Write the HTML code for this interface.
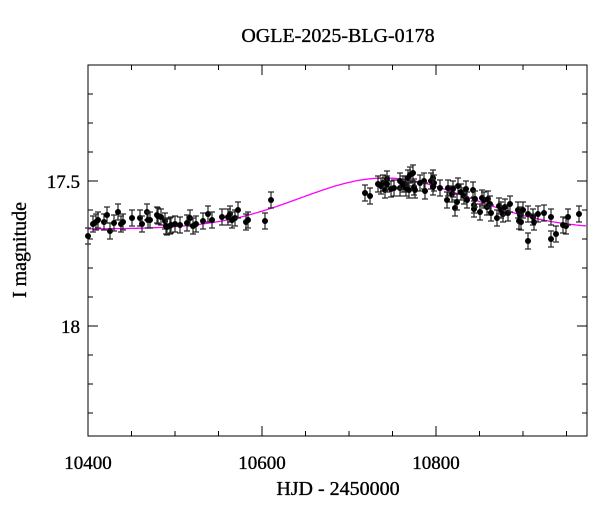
<!DOCTYPE html>
<html><head><style>body{margin:0;background:#fff}svg{display:block}text{font-family:"Liberation Serif",serif;fill:#000;stroke:#000;stroke-width:0.35}</style></head>
<body>
<svg id="s" width="600" height="512" xmlns="http://www.w3.org/2000/svg">
<text x="338" y="42" font-size="20" text-anchor="middle">OGLE-2025-BLG-0178</text>
<text x="338" y="495" font-size="20" text-anchor="middle">HJD - 2450000</text>
<text transform="translate(26,250) rotate(-90)" font-size="20" text-anchor="middle">I magnitude</text>
<text x="80" y="188" font-size="19" text-anchor="end">17.5</text>
<text x="80" y="333" font-size="19" text-anchor="end">18</text>
<text x="88" y="469" font-size="19" text-anchor="middle">10400</text>
<text x="262" y="469" font-size="19" text-anchor="middle">10600</text>
<text x="436" y="469" font-size="19" text-anchor="middle">10800</text>
<g id="ax" stroke="#000" stroke-width="1" fill="none"><rect x="88" y="65" width="499" height="371"/></g>
<g id="pts"></g>
</svg>
<script>
var ns="http://www.w3.org/2000/svg",ax=document.getElementById('ax'),P=document.getElementById('pts');
function L(p,x1,y1,x2,y2,c,w){var l=document.createElementNS(ns,'line');l.setAttribute('x1',x1);l.setAttribute('y1',y1);l.setAttribute('x2',x2);l.setAttribute('y2',y2);l.setAttribute('stroke',c||'#000');l.setAttribute('stroke-width',w||1);p.appendChild(l);}
for(var i=0;i<=11;i++){var x=88+i*43.5;if(x>587)break;var len=(i%4==0)?10:5;L(ax,x,436,x,436-len);L(ax,x,65,x,65+len);}
for(var v=17.1;v<18.38;v+=0.1){var y=181+(v-17.5)*290;if(y<65||y>436)continue;var mj=Math.abs(v*2-Math.round(v*2))<0.01;var len=mj?10:5;L(ax,88,y,88+len,y);L(ax,587,y,587-len,y);}
var d="";for(var x=88;x<=587;x+=2){var y=229-51*Math.exp(-Math.pow((x-385)/120,2));d+=(x==88?"M":"L")+x+","+y.toFixed(1);}
var pa=document.createElementNS(ns,'path');pa.setAttribute('d',d);pa.setAttribute('stroke','#f0f');pa.setAttribute('fill','none');pa.setAttribute('stroke-width','1.3');document.getElementById('s').insertBefore(pa,P);
var pts=[[88,236],[93,224],[96,222],[98,220],[104,222],[107,215],[110,231],[118,212],[114,223],[121,224],[123,222],[132,218],[140,218],[142,224],[147,212],[148,220],[150,220],[157,215],[158,216],[161,217],[165,221],[166,226],[167,227],[170,226],[171,225],[175,224],[180,225],[187,223],[190,218],[193,226],[196,224],[203,221],[208,214],[212,220],[222,217],[228,217],[230,214],[232,220],[235,218],[238,210],[246,222],[248,220],[265,221],[271,200],
[365,193],[370,196],[378,184],[381,186],[383,183],[385,190],[387,179],[387,184],[391,189],[394,188],[400,188],[400,181],[403,184],[405,184],[406,188],[408,178],[409,190],[410,175],[413,173],[414,187],[415,190],[420,183],[424,181],[425,191],[431,181],[433,178],[434,183],[433,187],[440,188],[447,200],[448,188],[452,194],[453,189],[455,208],[457,202],[458,186],[461,192],[464,196],[466,189],[467,200],[473,190],[474,205],[474,209],[475,199],[480,212],[482,198],[484,200],[487,207],[488,199],[490,204],[491,213],[497,218],[499,206],[501,210],[503,214],[505,207],[508,213],[510,204],[518,210],[519,221],[520,215],[523,210],[521,222],[528,214],[533,217],[534,222],[538,214],[544,213],[528,241],[551,217],[551,239],[556,234],[563,225],[566,226],[568,217],[579,214]];
pts.forEach(function(p){var x=p[0],y=p[1],e=8;L(P,x,y-e,x,y+e,'#222',1.2);L(P,x-3,y-e,x+3,y-e,'#222',1.2);L(P,x-3,y+e,x+3,y+e,'#222',1.2);var c=document.createElementNS(ns,'circle');c.setAttribute('cx',x);c.setAttribute('cy',y);c.setAttribute('r',3);P.appendChild(c);});
</script>
</body></html>
